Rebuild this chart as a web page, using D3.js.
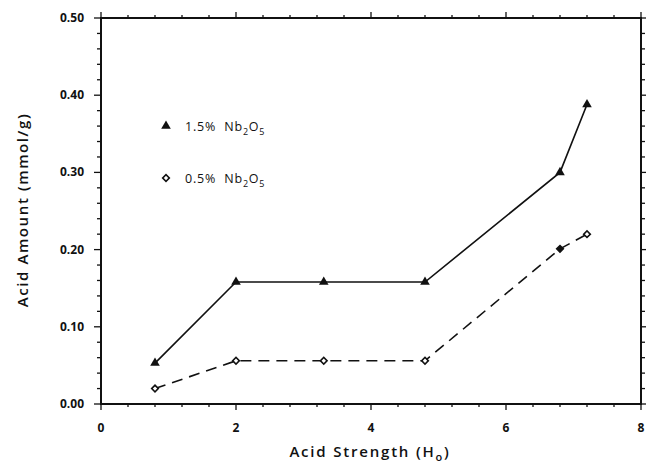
<!DOCTYPE html>
<html>
<head>
<meta charset="utf-8">
<script src="https://cdn.jsdelivr.net/npm/d3@7"></script>
<style>
  body { margin: 0; background: #fff; }
  svg text { font-family: "Open Sans", "DejaVu Sans", sans-serif; fill: #111; }
</style>
</head>
<body>
<div id="chart"></div>
<script>
const acidStrength = [0.8, 2.0, 3.3, 4.8, 6.8, 7.2];
const amountHigh = [0.053, 0.158, 0.158, 0.158, 0.300, 0.388];
const amountLow = [0.020, 0.056, 0.056, 0.056, 0.201, 0.220];
const xTicks = [0, 2, 4, 6, 8];
const yTicks = [0, 0.1, 0.2, 0.3, 0.4, 0.5];

const width = 646;
const height = 469;
const margin = { top: 18, right: 5, bottom: 65, left: 101 };

const svg = d3.select("#chart")
  .append("svg")
  .attr("width", width)
  .attr("height", height);

const x = d3.scaleLinear()
  .domain([0, 8])
  .range([margin.left, width - margin.right]);

const y = d3.scaleLinear()
  .domain([0, 0.5])
  .range([height - margin.bottom, margin.top]);

const xMinor = d3.range(0, 8.001, 0.4).filter(v => Math.abs(v / 2 - Math.round(v / 2)) > 0.01);
const yMinor = d3.range(0, 0.5001, 0.02).filter(v => Math.abs(v * 10 - Math.round(v * 10)) > 0.01);

const x0 = x.range()[0], x1 = x.range()[1];
const y0 = y.range()[0], y1 = y.range()[1];

// frame
svg.append("rect")
  .attr("x", x0)
  .attr("y", y1)
  .attr("width", x1 - x0)
  .attr("height", y0 - y1)
  .attr("fill", "none")
  .attr("stroke", "#111")
  .attr("stroke-width", 2);

const ticks = svg.append("g").attr("stroke", "#111").attr("stroke-width", 1.3);

// bottom and top ticks
[[xTicks, 6], [xMinor, 3]].forEach(([vals, len]) => {
  vals.forEach(v => {
    ticks.append("line").attr("x1", x(v)).attr("x2", x(v)).attr("y1", y0).attr("y2", y0 + len);
    ticks.append("line").attr("x1", x(v)).attr("x2", x(v)).attr("y1", y1).attr("y2", y1 - len);
  });
});

// left and right ticks
[[yTicks, 7], [yMinor, 4]].forEach(([vals, len]) => {
  vals.forEach(v => {
    ticks.append("line").attr("y1", y(v)).attr("y2", y(v)).attr("x1", x0).attr("x2", x0 - len);
    ticks.append("line").attr("y1", y(v)).attr("y2", y(v)).attr("x1", x1).attr("x2", x1 + len);
  });
});

// tick labels
svg.append("g")
  .selectAll("text")
  .data(xTicks)
  .enter()
  .append("text")
  .attr("x", d => x(d))
  .attr("y", y0 + 28)
  .attr("text-anchor", "middle")
  .attr("font-size", "12px")
  .attr("font-weight", "700")
  .text(d => d);

svg.append("g")
  .selectAll("text")
  .data(yTicks)
  .enter()
  .append("text")
  .attr("x", x0 - 17)
  .attr("y", d => y(d) + 4)
  .attr("text-anchor", "end")
  .attr("font-size", "12px")
  .attr("font-weight", "700")
  .text(d => d.toFixed(2));

// axis titles
const xTitle = svg.append("text")
  .attr("x", 370)
  .attr("y", 457)
  .attr("text-anchor", "middle")
  .attr("font-size", "15px")
  .attr("font-weight", "600")
  .attr("letter-spacing", "1.8px");
xTitle.append("tspan").text("Acid Strength (H");
xTitle.append("tspan").attr("font-size", "11px").attr("dy", 4).text("o");
xTitle.append("tspan").attr("dy", -4).text(")");

svg.append("text")
  .attr("transform", `translate(28, 210) rotate(-90)`)
  .attr("text-anchor", "middle")
  .attr("font-size", "15px")
  .attr("font-weight", "600")
  .attr("letter-spacing", "1.6px")
  .text("Acid Amount (mmol/g)");

// series
const highData = acidStrength.map((d, i) => ({ x: d, y: amountHigh[i] }));
const lowData = acidStrength.map((d, i) => ({ x: d, y: amountLow[i] }));

const line = d3.line().x(d => x(d.x)).y(d => y(d.y));

svg.append("path")
  .datum(highData)
  .attr("d", line)
  .attr("fill", "none")
  .attr("stroke", "#111")
  .attr("stroke-width", 1.6);

svg.append("path")
  .datum(lowData)
  .attr("d", line)
  .attr("fill", "none")
  .attr("stroke", "#111")
  .attr("stroke-width", 1.6)
  .attr("stroke-dasharray", "11,7");

const triangle = d3.symbol().type(d3.symbolTriangle).size(40);
const square = d3.symbol().type(d3.symbolSquare).size(22);

svg.append("g")
  .selectAll("path")
  .data(highData)
  .enter()
  .append("path")
  .attr("d", triangle)
  .attr("transform", d => `translate(${x(d.x)},${y(d.y)})`)
  .attr("fill", "#111");

svg.append("g")
  .selectAll("path")
  .data(lowData)
  .enter()
  .append("path")
  .attr("d", square)
  .attr("transform", d => `translate(${x(d.x)},${y(d.y)}) rotate(45)`)
  .attr("fill", (d, i) => i === 4 ? "#111" : "#fff")
  .attr("stroke", "#111")
  .attr("stroke-width", 1.6);

// legend
const legend = [
  { label: "1.5%  Nb", sym: triangle, fill: "#111", yPos: 131, rot: 0 },
  { label: "0.5%  Nb", sym: square, fill: "#fff", yPos: 183, rot: 45 }
];

legend.forEach(item => {
  svg.append("path")
    .attr("d", item.sym)
    .attr("transform", `translate(166,${item.yPos - 5}) rotate(${item.rot})`)
    .attr("fill", item.fill)
    .attr("stroke", "#111")
    .attr("stroke-width", item.fill === "#fff" ? 1.6 : 0);

  const t = svg.append("text")
    .attr("x", 185)
    .attr("y", item.yPos)
    .attr("font-size", "12.5px")
    .attr("letter-spacing", "0.8px")
    .style("white-space", "pre");
  t.append("tspan").text(item.label);
  t.append("tspan").attr("font-size", "9px").attr("dy", 4).text("2");
  t.append("tspan").attr("dy", -4).text("O");
  t.append("tspan").attr("font-size", "9px").attr("dy", 4).text("5");
});
</script>
</body>
</html>
